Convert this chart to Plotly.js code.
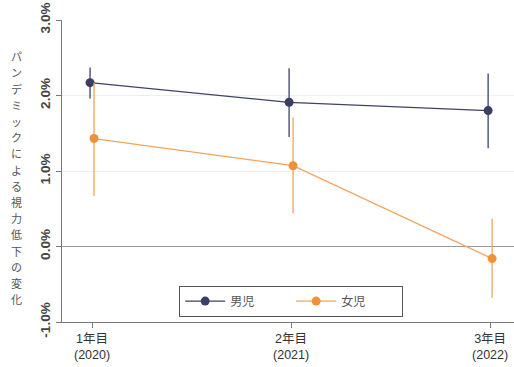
<!DOCTYPE html>
<html><head><meta charset="utf-8">
<script src="https://cdn.plot.ly/plotly-3.0.1.min.js"></script>
<style>html,body{margin:0;padding:0;background:#fff}</style>
</head><body><div id="chart" style="width:514px;height:367px"></div>
<script>
const categories = ["1年目<br>(2020)", "2年目<br>(2021)", "3年目<br>(2022)"];
const xIndex = [1, 2, 3];
const seriesNames = ["男児", "女児"];
const boysValues = [2.17, 1.91, 1.80];
const boysUpper = [2.37, 2.36, 2.29];
const boysLower = [1.96, 1.45, 1.30];
const girlsValues = [1.43, 1.07, -0.16];
const girlsUpper = [2.17, 1.71, 0.37];
const girlsLower = [0.67, 0.44, -0.68];
const yTickVals = [-1, 0, 1, 2, 3];
const yTickText = ["-1.0%", "0.0%", "1.0%", "2.0%", "3.0%"];
const yTitle = "パンデミックによる視力低下の変化";

const dodge = 0.01;
function mk(name, vals, up, lo, off, color, lineColor) {
  return {
    type: "scatter", mode: "lines+markers", name: name,
    x: xIndex.map(v => v + off), y: vals,
    line: {color: lineColor, width: 1.3},
    marker: {color: color, size: 9},
    error_y: {type: "data", symmetric: false,
      array: up.map((u, i) => u - vals[i]),
      arrayminus: lo.map((l, i) => vals[i] - l),
      color: lineColor, thickness: 1.3, width: 0}
  };
}
const data = [
  mk(seriesNames[0], boysValues, boysUpper, boysLower, -dodge, "#3a3e63", "#3e4266"),
  mk(seriesNames[1], girlsValues, girlsUpper, girlsLower, dodge, "#f0913a", "#f2a35c")
];

// vertical (tategaki) axis title: one upright character per step
const chars = Array.from(yTitle);
const step = 16.2, centerPx = 178;
const titleAnnotations = chars.map((c, i) => ({
  xref: "paper", yref: "paper", x: -0.1, y: (322.5 - centerPx) / 302.5,
  yshift: -((i - (chars.length - 1) / 2) * step),
  xanchor: "center", yanchor: "middle", showarrow: false, borderpad: 0,
  text: c, font: {family: "Noto Sans CJK JP, sans-serif", size: 11, color: "#555"}
}));

const layout = {
  width: 514, height: 367,
  margin: {l: 62, r: 0, t: 20, b: 45},
  paper_bgcolor: "#fff", plot_bgcolor: "#fff",
  showlegend: true,
  font: {family: "Noto Sans CJK JP, Liberation Sans, sans-serif", color: "#444"},
  xaxis: {range: [0.849, 3.12], tickvals: xIndex, ticktext: categories, automargin: false,
    showgrid: false, zeroline: false, showline: true, linecolor: "#777", linewidth: 1.2,
    ticks: "outside", ticklen: 5, tickcolor: "#777",
    tickfont: {family: "Liberation Sans, Noto Sans CJK JP, sans-serif", size: 12.5, color: "#333"}},
  yaxis: {range: [-1, 3], tickvals: yTickVals, ticktext: yTickText, tickangle: -90, automargin: false,
    showgrid: true, gridcolor: "#eeeeee", gridwidth: 1,
    zeroline: true, zerolinecolor: "#9a9a9a", zerolinewidth: 1.3,
    showline: true, linecolor: "#777", linewidth: 1.2,
    ticks: "outside", ticklen: 5, tickcolor: "#777",
    tickfont: {family: "Liberation Sans, sans-serif", size: 13.5, color: "#444", weight: "bold"}},
  legend: {orientation: "h", x: 0.507, xanchor: "center", y: 0.018, yanchor: "bottom",
    bgcolor: "#fff", bordercolor: "#555", borderwidth: 1,
    font: {family: "Noto Sans CJK JP, sans-serif", size: 12, color: "#555"},
    itemwidth: 40, entrywidth: 56},
  annotations: titleAnnotations
};
Plotly.newPlot("chart", data, layout, {displayModeBar: false, staticPlot: true});
</script></body></html>
